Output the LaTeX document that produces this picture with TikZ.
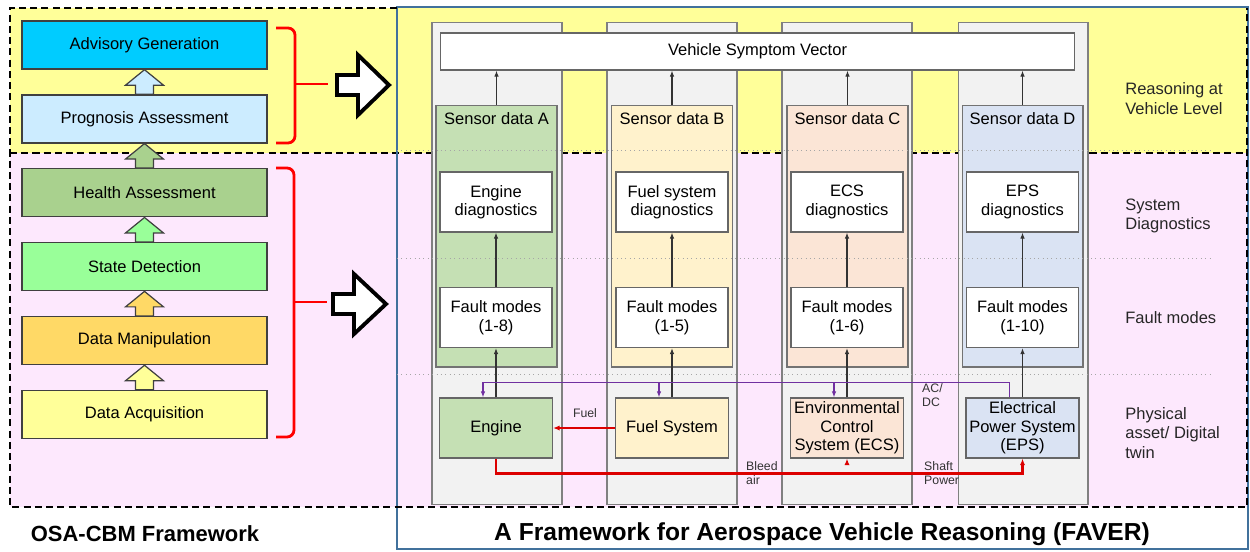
\documentclass[tikz,border=0pt]{standalone}
\usepackage{fontspec}
\setmainfont{Liberation Sans}
\usepackage{xcolor}
\usepackage{tikz}
\usetikzlibrary{positioning,calc,arrows.meta}

\definecolor{advisblue}{RGB}{0,204,255}
\definecolor{progblue}{RGB}{204,236,255}
\definecolor{healthgreen}{RGB}{169,209,142}
\definecolor{stategreen}{RGB}{153,255,153}
\definecolor{manipyellow}{RGB}{255,217,102}
\definecolor{acqyellow}{RGB}{255,255,153}
\definecolor{bandyellow}{RGB}{255,255,153}
\definecolor{bandpink}{RGB}{253,232,253}
\definecolor{faverblue}{RGB}{65,113,156}
\definecolor{engA}{RGB}{197,224,180}
\definecolor{fuelB}{RGB}{255,242,204}
\definecolor{ecsC}{RGB}{251,229,214}
\definecolor{epsD}{RGB}{218,227,243}
\definecolor{acdcpurple}{RGB}{112,48,160}
\definecolor{mechred}{RGB}{220,0,0}

\tikzset{
  stage/.style={draw=black!75, line width=0.8pt, minimum width=4.9cm, minimum height=0.96cm},
  stagearrow/.style={draw=black!75, line width=0.7pt, line join=miter},
  hollow/.style={draw=black, fill=white, line width=2.2pt, line join=miter},
  brace/.style={draw=red, line width=1.6pt, rounded corners=4pt},
  frame/.style={dashed, dash pattern=on 4pt off 2.4pt, line width=1.2pt},
  lane/.style={draw=black!50, fill=black!5, line width=0.6pt, minimum width=2.6cm, minimum height=9.66cm},
  sensor/.style={draw=black!55, line width=0.6pt, minimum width=2.42cm, minimum height=5.24cm},
  whitebox/.style={draw=black!60, fill=white, line width=0.6pt, minimum width=2.24cm, minimum height=1.2cm, align=center},
  asset/.style={draw=black!60, line width=0.6pt, minimum width=2.26cm, minimum height=1.2cm, align=center, inner sep=1pt},
  level/.style={draw=black!35, dotted, line width=0.5pt},
  flow/.style={-{Latex[length=3.5pt,width=2.6pt]}, line width=0.6pt, draw=black!80},
  acdc/.style={-{Latex[length=3.5pt,width=2.6pt]}, line width=0.8pt, draw=acdcpurple},
  mech/.style={-{Latex[length=3.8pt,width=3pt]}, line width=1.3pt, draw=mechred},
  tag/.style={font=\fontsize{7}{8}\selectfont, text=black!80, align=left},
  levellabel/.style={anchor=west, inner sep=0pt, align=left, font=\fontsize{9.4}{11.3}\selectfont, text=black!85}
}

\begin{document}
\begin{tikzpicture}[x=0.02cm, y=-0.02cm, every node/.style={font=\fontsize{9.4}{10.5}\selectfont}]
    \useasboundingbox (0,0) rectangle (1250,551);

    % Background bands
    \fill[bandyellow] (10,8) rectangle (1247,153);
    \fill[bandpink] (10,153) rectangle (1247,507);
    \draw[frame] (10,153) -- (1247,153);
    \draw[faverblue, line width=1.1pt] (397,7) rectangle (1248,549);
    \draw[frame] (397,8) -- (10,8) -- (10,507) -- (1247,507) -- (1247,8);

    % OSA-CBM stages
    \node (advis) [stage, fill=advisblue] at (144.5,45) {Advisory Generation};
    \node (prog) [stage, fill=progblue, below=0.49cm of advis] {Prognosis Assessment};
    \node (health) [stage, fill=healthgreen, below=0.49cm of prog] {Health Assessment};
    \node (state) [stage, fill=stategreen, below=0.49cm of health] {State Detection};
    \node (manip) [stage, fill=manipyellow, below=0.49cm of state] {Data Manipulation};
    \node (acq) [stage, fill=acqyellow, below=0.49cm of manip] {Data Acquisition};

    \draw[stagearrow, fill=progblue] ($(prog.north)+(-9,0)$) -- ++(0,-9) -- ++(-10,0) -- (advis.south) -- ($(prog.north)+(19,-9)$) -- ++(-10,0) -- ++(0,9) -- cycle;
    \draw[stagearrow, fill=healthgreen] ($(health.north)+(-9,0)$) -- ++(0,-9) -- ++(-10,0) -- (prog.south) -- ($(health.north)+(19,-9)$) -- ++(-10,0) -- ++(0,9) -- cycle;
    \draw[stagearrow, fill=stategreen] ($(state.north)+(-9,0)$) -- ++(0,-9) -- ++(-10,0) -- (health.south) -- ($(state.north)+(19,-9)$) -- ++(-10,0) -- ++(0,9) -- cycle;
    \draw[stagearrow, fill=manipyellow] ($(manip.north)+(-9,0)$) -- ++(0,-9) -- ++(-10,0) -- (state.south) -- ($(manip.north)+(19,-9)$) -- ++(-10,0) -- ++(0,9) -- cycle;
    \draw[stagearrow, fill=acqyellow] ($(acq.north)+(-9,0)$) -- ++(0,-9) -- ++(-10,0) -- (manip.south) -- ($(acq.north)+(19,-9)$) -- ++(-10,0) -- ++(0,9) -- cycle;

    % Braces and hollow arrows
    \draw[brace] (276,28) -- (295,28) -- (295,143) -- (276,143);
    \draw[brace] (295,84) -- (328,84);
    \draw[brace] (276,168) -- (294,168) -- (294,437) -- (276,437);
    \draw[brace] (294,302) -- (327,302);
    \draw[hollow] (337,75) -- (358,75) -- (358,55) -- (389,85) -- (358,115) -- (358,95) -- (337,95) -- cycle;
    \draw[hollow] (333,294) -- (354,294) -- (354,274) -- (386,304) -- (354,334) -- (354,314) -- (333,314) -- cycle;

    % FAVER lanes
    \node (laneA) [lane] at (497,263.5) {};
    \node (laneB) [lane] at (672,263.5) {};
    \node (laneC) [lane] at (847,263.5) {};
    \node (laneD) [lane] at (1023,263.5) {};
    \node (vsv) [whitebox, minimum width=12.7cm, minimum height=0.74cm] at (757.5,51.5) {Vehicle Symptom Vector};

    \node (sensA) [sensor, fill=engA] at (496.5,236) {};
    \node (sensB) [sensor, fill=fuelB] at (672,236) {};
    \node (sensC) [sensor, fill=ecsC] at (847.5,236) {};
    \node (sensD) [sensor, fill=epsD] at (1022.5,236) {};
    \node (sdA) [below=1pt of sensA.north] {Sensor data A};
    \node (sdB) [below=1pt of sensB.north] {Sensor data B};
    \node (sdC) [below=1pt of sensC.north] {Sensor data C};
    \node (sdD) [below=1pt of sensD.north] {Sensor data D};

    % Level separators
    \draw[level] (397,150) -- (1213,150);
    \draw[level] (397,258) -- (1213,258);
    \draw[level] (397,374) -- (1213,374);

    \node (dgA) [whitebox] at (496,202) {Engine\\diagnostics};
    \node (dgB) [whitebox] at (672,202) {Fuel system\\diagnostics};
    \node (dgC) [whitebox] at (847,202) {ECS\\diagnostics};
    \node (dgD) [whitebox] at (1022.5,202) {EPS\\diagnostics};
    \node (fmA) [whitebox] at (496,317.5) {Fault modes\\(1-8)};
    \node (fmB) [whitebox] at (672,317.5) {Fault modes\\(1-5)};
    \node (fmC) [whitebox] at (847,317.5) {Fault modes\\(1-6)};
    \node (fmD) [whitebox] at (1022.5,317.5) {Fault modes\\(1-10)};
    \node (eng) [asset, fill=engA] at (496,428) {Engine};
    \node (fuel) [asset, fill=fuelB] at (672,428) {Fuel System};
    \node (ecs) [asset, fill=ecsC] at (847,428) {Environmental\\Control\\System (ECS)};
    \node (eps) [asset, fill=epsD] at (1022.5,428) {Electrical\\Power System\\(EPS)};

    % Data flow
    \draw[flow] (sensA.north) -- (sensA.north |- vsv.south);
    \draw[flow] (sensB.north) -- (sensB.north |- vsv.south);
    \draw[flow] (sensC.north) -- (sensC.north |- vsv.south);
    \draw[flow] (sensD.north) -- (sensD.north |- vsv.south);
    \draw[flow] (fmA) -- (dgA);
    \draw[flow] (fmB) -- (dgB);
    \draw[flow] (fmC) -- (dgC);
    \draw[flow] (fmD) -- (dgD);
    \draw[flow] (eng) -- (fmA);
    \draw[flow] (fuel) -- (fmB);
    \draw[flow] (ecs) -- (fmC);
    \draw[flow] (eps) -- (fmD);

    % Physical links
    \draw[acdc] ($(eps.north)+(-13,0)$) |- ($(eng.north)+(-13,-15)$) -- ($(eng.north)+(-13,0)$);
    \draw[acdc] ($(fuel.north)+(-13,-15)$) -- ($(fuel.north)+(-13,0)$);
    \draw[acdc] ($(ecs.north)+(-13,-15)$) -- ($(ecs.north)+(-13,0)$);
    \draw[mech] (fuel) -- (eng);
    \draw[mech] (eng.south) -- ++(0,15) -| (eps.south);
    \draw[mech] ($(ecs.south)+(0,5)$) -- (ecs.south);
    \node (fuelTag) [tag] at (585,413) {Fuel};
    \node (bleedTag) [tag, anchor=west] at (740,473) {Bleed\\air};
    \node (shaftTag) [tag, anchor=west] at (918,473) {Shaft\\Power};
    \node (acdcTag) [tag, anchor=west] at (916,395) {AC/\\DC};

    % Level labels
    \node (lvlVeh) [levellabel] at (1125,99) {Reasoning at\\Vehicle Level};
    \node (lvlSys) [levellabel] at (1125,216) {System\\Diagnostics};
    \node (lvlFault) [levellabel] at (1125,318) {Fault modes};
    \node (lvlPhys) [levellabel] at (1125,433) {Physical\\asset/ Digital\\twin};

    % Titles
    \node (osaTitle) [font=\bfseries\fontsize{12.5}{14}\selectfont] at (145,534) {OSA-CBM Framework};
    \node (faverTitle) [font=\bfseries\fontsize{14}{16}\selectfont] at (822,534) {A Framework for Aerospace Vehicle Reasoning (FAVER)};
\end{tikzpicture}
\end{document}
